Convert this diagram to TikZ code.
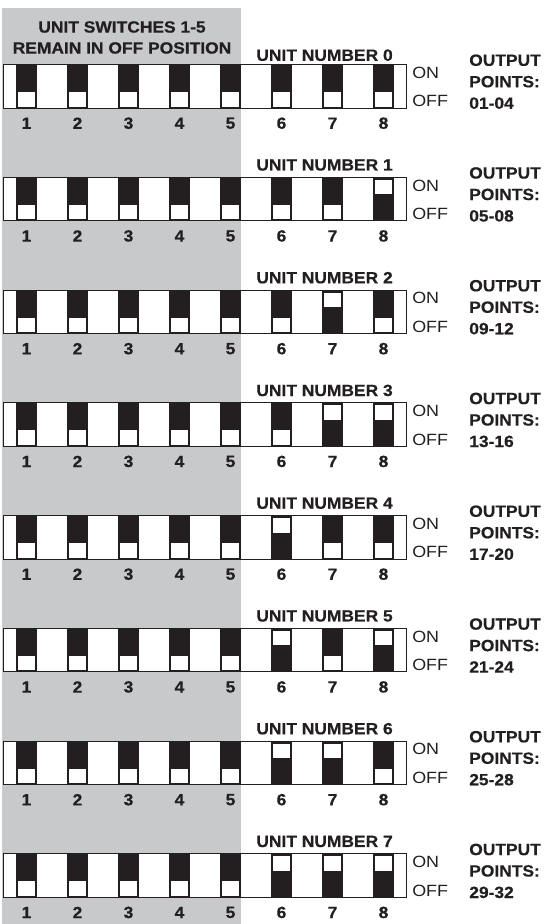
\documentclass[tikz,border=0pt]{standalone}
\usepackage{fontspec}
\setmainfont{Liberation Sans}[FakeStretch=1.1]
\newfontfamily\hdrfont{Liberation Sans Bold}[FakeStretch=1.07, FakeBold=0.5]
\definecolor{panelgray}{RGB}{200,201,203}
\definecolor{swblack}{RGB}{35,31,32}

\begin{document}
\begin{tikzpicture}[x=0.75pt,y=-0.75pt,
  hdr/.style={font=\fontsize{12.2}{16.1}\hdrfont, text=swblack, inner sep=0pt},
  swlbl/.style={font=\fontsize{12.2}{14}\selectfont, text=swblack, inner sep=0pt, anchor=west}]
\useasboundingbox (0,0) rectangle (547,924);
% shaded panel behind switches 1-5
\fill[panelgray] (2,8) rectangle (241,924);
\node[hdr] (head1) at (122,27) {UNIT SWITCHES 1-5};
\node[hdr] (head2) at (122,48) {REMAIN IN OFF POSITION};
\foreach \n in {0,...,7} {
  \pgfmathsetmacro{\T}{64.7+112.75*\n}
  \pgfmathsetmacro{\B}{\T+43.3}
  \pgfmathsetmacro{\U}{\T-12.5+3*(\n==0)}
  \pgfmathtruncatemacro{\first}{4*\n+1}
  \pgfmathtruncatemacro{\last}{4*\n+4}
  \fill[white, draw=swblack, line width=0.75pt] (3,\T) rectangle (406,\B);
  \foreach \k in {1,...,8} {
    \pgfmathsetmacro{\L}{16+51*(\k-1)}
    \pgfmathtruncatemacro{\on}{mod(floor(\n/2^(8-\k)),2)}
    \fill[swblack] (\L,\T) rectangle (\L+21,\B);
    \ifnum\on=1
      \fill[white] (\L+2,\T+2.5) rectangle (\L+19,\T+17);
    \else
      \fill[white] (\L+2,\B-16) rectangle (\L+19,\B-1.5);
    \fi
    \node[hdr] (num\n-\k) at (\L+10.5,\T+58.5) {\k};
  }
  \node[hdr, anchor=east] (unit\n) at (393,\U) {UNIT NUMBER \n};
  \node[swlbl] (on\n) at (412,\T+8) {ON};
  \node[swlbl] (off\n) at (412,\T+36.5) {OFF};
  \node[hdr, anchor=west, align=left] (out\n) at (469,\T+17)
    {OUTPUT\\POINTS:\\\ifnum\first<10 0\fi\first-\ifnum\last<10 0\fi\last};
}
\end{tikzpicture}
\end{document}
